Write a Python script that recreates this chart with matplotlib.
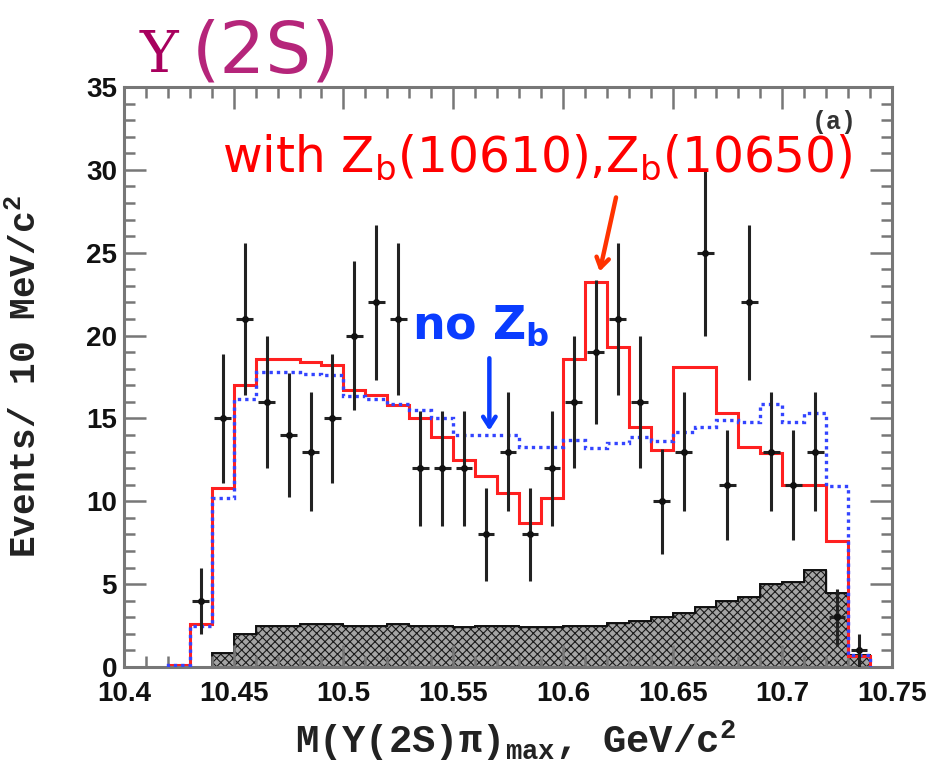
import numpy as np
import matplotlib
matplotlib.use("Agg")
import matplotlib.pyplot as plt
from matplotlib.ticker import MultipleLocator

plt.rcParams['mathtext.default'] = 'regular'
plt.rcParams['hatch.linewidth'] = 0.8

# histogram bins: 10 MeV wide, 10.42 .. 10.74
bin_lo = 10.42
bin_w = 0.01
n_bins = 32

# fit with Zb(10610), Zb(10650)
fit_zb = [0.1, 2.6, 10.8, 17.0, 18.6, 18.6, 18.4, 18.2, 16.7, 16.4, 15.8, 15.0,
          13.9, 12.5, 11.5, 10.5, 8.7, 10.2, 18.6, 23.25, 19.3, 14.5, 13.1, 18.1,
          18.1, 15.3, 13.3, 12.9, 11.0, 11.0, 7.6, 0.65]
# fit without Zb
fit_nozb = [0.1, 2.5, 10.2, 16.2, 17.8, 17.8, 17.7, 17.6, 16.35, 16.15, 15.9, 15.5,
            15.0, 14.0, 14.0, 14.0, 13.3, 13.3, 13.7, 13.2, 13.5, 13.9, 13.65, 14.2,
            14.5, 14.9, 14.8, 15.9, 14.8, 15.3, 10.9, 0.7]
# background (hatched)
bkg = [0.0, 0.0, 0.86, 2.0, 2.47, 2.47, 2.6, 2.6, 2.47, 2.47, 2.6, 2.47,
       2.47, 2.4, 2.45, 2.5, 2.4, 2.4, 2.45, 2.5, 2.67, 2.8, 3.0, 3.28,
       3.6, 4.0, 4.24, 5.0, 5.15, 5.85, 4.45, 0.7]

# data points (bin centres 10.435 .. 10.735)
data_x = [10.435, 10.445, 10.455, 10.465, 10.475, 10.485, 10.495, 10.505, 10.515,
          10.525, 10.535, 10.545, 10.555, 10.565, 10.575, 10.585, 10.595, 10.605,
          10.615, 10.625, 10.635, 10.645, 10.655, 10.665, 10.675, 10.685, 10.695,
          10.705, 10.715, 10.725, 10.735]
data_y = [4, 15, 21, 16, 14, 13, 15, 20, 22, 21, 12, 12, 12, 8, 13, 8, 12, 16,
          19, 21, 16, 10, 13, 25, 11, 22, 13, 11, 13, 3, 1]

edges = np.round(bin_lo + bin_w * np.arange(n_bins + 1), 3)

fig = plt.figure(figsize=(9.34, 7.70), dpi=100)
ax = fig.add_axes([124/934, 1 - 667/770, 768/934, 580/770])

ax.stairs(bkg, edges, fill=True, facecolor='#a4a4a4', edgecolor='#1a1a1a',
          hatch='xxxx', linewidth=1.0, zorder=1)
ax.stairs(bkg, edges, color='#111111', linewidth=1.4, baseline=0, zorder=1.5)
ax.stairs(fit_zb, edges, color='#ff2020', linewidth=2.2, baseline=0, zorder=2)
ax.stairs(fit_nozb, edges, color='#3344ff', linewidth=2.4, linestyle=(0, (1, 1.2)),
          baseline=0, zorder=3)
ax.errorbar(data_x, data_y, yerr=np.sqrt(data_y), xerr=0.0038, fmt='o', ms=4,
            color='#111111', ecolor='#222222', elinewidth=2.2, capsize=0, zorder=4)

ax.set_xlim(10.4, 10.75)
ax.set_ylim(0, 35)
ax.xaxis.set_major_locator(MultipleLocator(0.05))
ax.xaxis.set_minor_locator(MultipleLocator(0.01))
ax.yaxis.set_major_locator(MultipleLocator(5))
ax.yaxis.set_minor_locator(MultipleLocator(1))
ax.set_xticks([10.4, 10.45, 10.5, 10.55, 10.6, 10.65, 10.7, 10.75])
ax.set_xticklabels(['10.4', '10.45', '10.5', '10.55', '10.6', '10.65', '10.7', '10.75'])

for s in ax.spines.values():
    s.set_color('#777777')
    s.set_linewidth(2.2)
ax.tick_params(which='both', direction='in', top=True, right=True, color='#777777', width=1.8)
ax.tick_params(which='major', length=16)
ax.tick_params(which='minor', length=8)
ax.tick_params(axis='x', which='major', pad=10)
ax.tick_params(axis='y', which='major', pad=5)
for lab in ax.get_xticklabels() + ax.get_yticklabels():
    lab.set_fontfamily('Liberation Sans')
    lab.set_fontweight('bold')
    lab.set_fontsize(20)
    lab.set_color('#111111')

ax.set_ylabel('Events/ 10 MeV/c$^{2}$', family='Liberation Mono', weight='bold',
              fontsize=26, color='#222222')
ax.yaxis.set_label_coords(-0.104, 0.5)
ax.set_xlabel('M(Y(2S)π)$_{max}$, GeV/c$^{2}$', family='Liberation Mono', weight='bold',
              fontsize=28, color='#222222')
ax.xaxis.set_label_coords(0.51, -0.088)

# panel label
ax.text(10.7237, 32.9, '(a)', family='Liberation Mono', weight='bold', fontsize=18,
        color='#333333', ha='center', va='center', zorder=1)

# title
fig.text(140/934, 1 - 72/770, 'Υ', family='DejaVu Serif', fontsize=42,
         color='#a8005e', ha='left', va='baseline')
fig.text(192/934, 1 - 72/770, '(2S)', family='DejaVu Sans', fontsize=52,
         color='#b5257a', ha='left', va='baseline')

# annotations
ax.text(10.4445, 29.9, 'with Z$_b$(10610),Z$_b$(10650)', family='DejaVu Sans',
        fontsize=35, color='#ff0000', ha='left', va='baseline', zorder=6)
ax.annotate('', xy=(10.6165, 23.7), xytext=(10.6245, 28.5),
            arrowprops=dict(arrowstyle='->,head_length=0.7,head_width=0.45',
                            color='#ff3300', lw=3.2), zorder=6)

ax.text(10.5625, 19.8, 'no Z$_b$', family='DejaVu Sans', weight='bold', fontsize=33,
        color='#0a3cff', ha='center', va='baseline', zorder=6)
ax.annotate('', xy=(10.5665, 14.1), xytext=(10.5665, 18.8),
            arrowprops=dict(arrowstyle='->,head_length=0.7,head_width=0.45',
                            color='#0a3cff', lw=3.2), zorder=6)

fig.savefig('out.png', dpi=100)
